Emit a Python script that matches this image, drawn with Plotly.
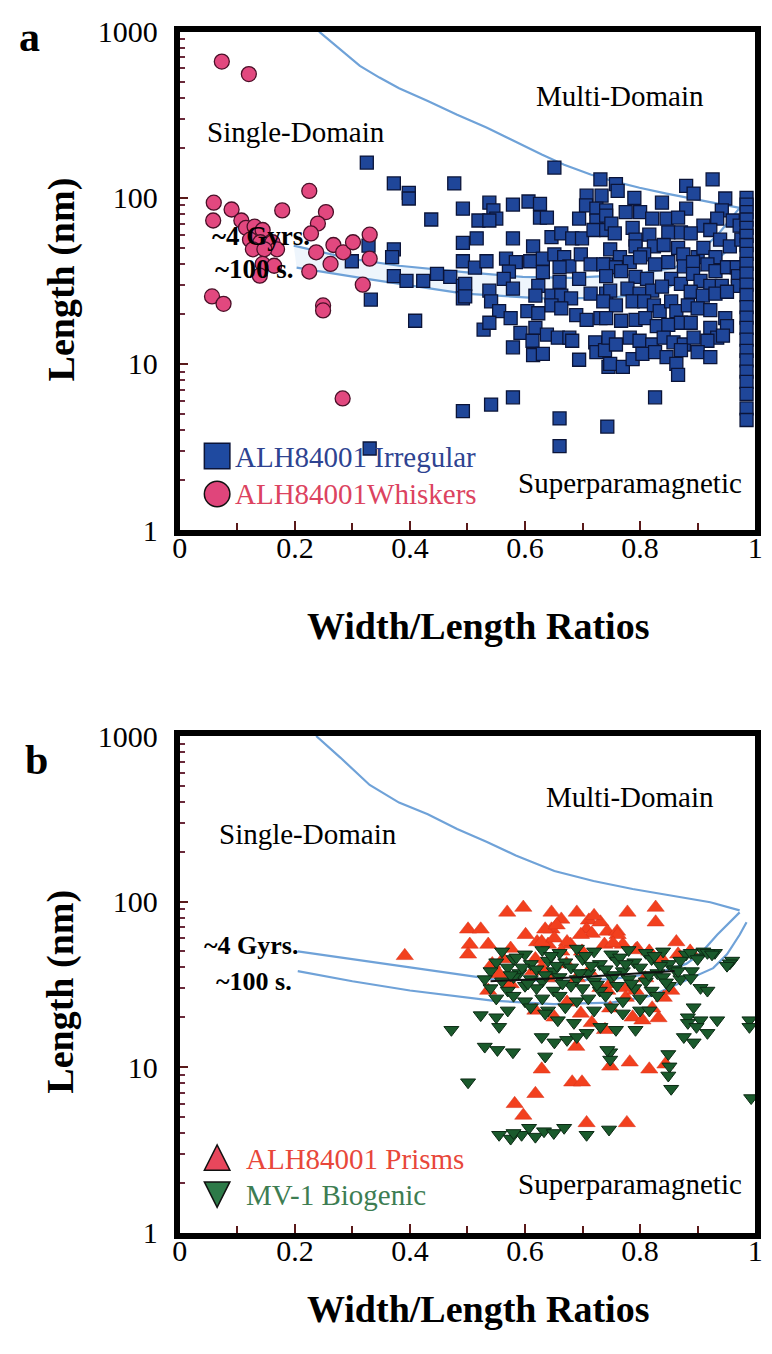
import plotly.graph_objects as go

W, H = 772, 1354
SERIF = "Liberation Serif"

# ---------------- Panel a data (Width/Length ratio, Length nm) ----------------
irregular = [
    (0.325, 163), (0.372, 122), (0.398, 107), (0.398, 99), (0.477, 122), (0.492, 86), (0.437, 74),
    (0.328, 51.5), (0.372, 49), (0.369, 44), (0.299, 41.5), (0.492, 53.6), (0.492, 41.5), (0.372, 33.8),
    (0.394, 31.6), (0.423, 31.6), (0.447, 34.8), (0.470, 33.4), (0.492, 29.5), (0.492, 24.8), (0.332, 24.4),
    (0.409, 18.2), (0.492, 5.2), (0.330, 3.1), (0.541, 5.7), (0.579, 6.3), (0.660, 4.7), (0.660, 3.2),
    (0.743, 4.2), (0.826, 6.3),
    (0.651, 152), (0.731, 129), (0.538, 93.5), (0.579, 91), (0.606, 95), (0.626, 92), (0.707, 103),
    (0.733, 103), (0.545, 84), (0.550, 75), (0.519, 73), (0.538, 73), (0.626, 76), (0.638, 76), (0.694, 75),
    (0.706, 90), (0.724, 86), (0.741, 84), (0.724, 73), (0.516, 57), (0.579, 57), (0.646, 58), (0.663, 61),
    (0.682, 57), (0.699, 57), (0.719, 64), (0.741, 64), (0.614, 51), (0.513, 38), (0.533, 41.5), (0.567, 43),
    (0.584, 41), (0.572, 36), (0.563, 32.5), (0.609, 41.5), (0.631, 43), (0.651, 45.6), (0.668, 44),
    (0.677, 38.7), (0.697, 45.6), (0.714, 39.8), (0.741, 39.8), (0.631, 35.7), (0.660, 38.2), (0.579, 28.4),
    (0.623, 29.5), (0.660, 31.2), (0.694, 32.5), (0.496, 30.3), (0.496, 25.5), (0.538, 27.6), (0.541, 23.8),
    (0.618, 25.8), (0.646, 25.8), (0.663, 25.8), (0.680, 24.8), (0.714, 26.5), (0.741, 26.5), (0.555, 20.8),
    (0.575, 18.9), (0.604, 20.8), (0.623, 20.2), (0.646, 22.5), (0.663, 21.6), (0.689, 19.7), (0.707, 18.4),
    (0.731, 18.9), (0.528, 16.1), (0.538, 17.7), (0.592, 15.4), (0.618, 16.5), (0.638, 15.0), (0.657, 14.4),
    (0.677, 14.4), (0.579, 12.6), (0.613, 13.8), (0.614, 11.3), (0.631, 11.5), (0.682, 13.8), (0.722, 13.5),
    (0.724, 11.8), (0.694, 10.6), (0.739, 12.1), (0.745, 9.6),
    (0.926, 129), (0.880, 118), (0.893, 106), (0.758, 121), (0.761, 110), (0.790, 100), (0.838, 93.5),
    (0.948, 99), (0.942, 84), (0.880, 86), (0.775, 82), (0.800, 82), (0.821, 75), (0.741, 78), (0.750, 70),
    (0.846, 75), (0.866, 76), (0.910, 68), (0.934, 75), (0.961, 73), (0.973, 68), (0.756, 61), (0.787, 66),
    (0.792, 56), (0.816, 60), (0.824, 51), (0.849, 62), (0.871, 62), (0.888, 61), (0.922, 64), (0.939, 56),
    (0.956, 51), (0.976, 56), (0.748, 49), (0.765, 44), (0.792, 51), (0.807, 45.6), (0.841, 52), (0.866, 50),
    (0.875, 45.6), (0.900, 44), (0.910, 50), (0.931, 44), (0.736, 39.8), (0.758, 38.2), (0.782, 41),
    (0.800, 43.8), (0.826, 39.8), (0.849, 41), (0.876, 38.7), (0.892, 41), (0.917, 39.8), (0.931, 36.2),
    (0.951, 38.2), (0.968, 38.2), (0.741, 33.8), (0.767, 36.2), (0.792, 33.4), (0.812, 32.5), (0.854, 32.5),
    (0.871, 30.3), (0.892, 34.8), (0.905, 31.6), (0.922, 29.5), (0.942, 29.5), (0.970, 33.8), (0.970, 29.5),
    (0.748, 27.6), (0.778, 28.4), (0.799, 26.5), (0.821, 27.6), (0.838, 29.2), (0.888, 27.2), (0.909, 25.8),
    (0.931, 26.5), (0.951, 27.2), (0.736, 23.8), (0.758, 22.5), (0.787, 23.8), (0.807, 23.8), (0.824, 22.5),
    (0.834, 20.8), (0.854, 23.8), (0.863, 20.8), (0.883, 22.5), (0.900, 21.6), (0.922, 21.1), (0.948, 18.9),
    (0.951, 16.9), (0.741, 18.9), (0.767, 18.2), (0.792, 18.4), (0.809, 18.9), (0.829, 16.9), (0.849, 17.2),
    (0.871, 17.7), (0.888, 17.7), (0.922, 16.5), (0.934, 14.4), (0.917, 13.8), (0.944, 14.8), (0.745, 14.4),
    (0.758, 13.1), (0.782, 14.4), (0.799, 13.8), (0.821, 13.1), (0.841, 14.4), (0.858, 13.5), (0.876, 13.1),
    (0.893, 14.4), (0.748, 10.0), (0.770, 9.6), (0.787, 10.7), (0.804, 11.5), (0.826, 11.8), (0.846, 11.0),
    (0.871, 12.1), (0.900, 11.8), (0.922, 11.0), (0.863, 10.0), (0.866, 8.6),
    (0.985, 100), (0.985, 91), (0.985, 82), (0.985, 74), (0.985, 66), (0.985, 59), (0.985, 52), (0.985, 46),
    (0.985, 40), (0.985, 35), (0.985, 30), (0.985, 26), (0.985, 22), (0.985, 19), (0.985, 16.5), (0.985, 14),
    (0.985, 12), (0.985, 10.5), (0.985, 9), (0.985, 7.8), (0.985, 6.6), (0.985, 5.4), (0.985, 4.6),
]

whiskers = [
    (0.073, 660), (0.120, 555), (0.059, 93.5), (0.090, 85), (0.058, 73), (0.107, 73), (0.178, 84),
    (0.225, 110), (0.254, 82), (0.240, 70), (0.228, 61), (0.115, 66), (0.130, 67), (0.144, 64), (0.122, 56),
    (0.140, 54), (0.161, 54), (0.169, 49), (0.127, 49), (0.147, 49), (0.237, 47), (0.267, 52), (0.284, 47),
    (0.301, 54), (0.330, 60), (0.262, 40), (0.330, 43), (0.225, 36), (0.144, 40), (0.164, 39), (0.139, 34),
    (0.318, 30), (0.056, 25.5), (0.076, 23), (0.249, 22.5), (0.249, 21), (0.283, 6.2),
]

sd_md_a = [
    (0.242, 1000), (0.279, 783), (0.313, 622), (0.347, 529), (0.381, 456), (0.431, 382), (0.482, 316),
    (0.533, 265), (0.584, 216), (0.629, 182), (0.668, 158), (0.714, 138), (0.753, 126), (0.799, 115),
    (0.846, 106), (0.883, 100), (0.939, 92), (0.973, 87),
]
gyrs_a = [
    (0.198, 51.5), (0.296, 43), (0.381, 39), (0.494, 35.7), (0.596, 33.4), (0.680, 33), (0.787, 34.5),
    (0.860, 38), (0.900, 46), (0.935, 60), (0.973, 87),
]
sec100_a = [
    (0.203, 38), (0.325, 32.5), (0.494, 26.5), (0.629, 24.8), (0.753, 25), (0.840, 28), (0.890, 34),
    (0.925, 40), (0.951, 48), (0.973, 62), (0.985, 75),
]

# ---------------- Panel b data ----------------
prisms = [
    (0.391, 47), (0.569, 86), (0.597, 92), (0.501, 68), (0.523, 68), (0.504, 55), (0.501, 48), (0.536, 55),
    (0.646, 86), (0.663, 78), (0.646, 68), (0.711, 77), (0.731, 75), (0.707, 68), (0.743, 66), (0.760, 66),
    (0.778, 86), (0.827, 92), (0.827, 75), (0.601, 63), (0.621, 57), (0.640, 55), (0.575, 52), (0.562, 45),
    (0.679, 55), (0.699, 50), (0.738, 55), (0.770, 55), (0.795, 52), (0.816, 50), (0.863, 57), (0.887, 50),
    (0.543, 42), (0.555, 36.5), (0.536, 29), (0.575, 31.8), (0.614, 38), (0.640, 34.5), (0.672, 42),
    (0.711, 38), (0.743, 29), (0.777, 30.1), (0.809, 34.5), (0.841, 26.3), (0.635, 68), (0.716, 64),
    (0.697, 63), (0.761, 63), (0.753, 56), (0.629, 57), (0.651, 60), (0.673, 57), (0.663, 50), (0.792, 51),
    (0.838, 45), (0.866, 48), (0.618, 45), (0.629, 40), (0.690, 34.5), (0.731, 30.1), (0.748, 31.8),
    (0.775, 26.3), (0.792, 29), (0.854, 29), (0.673, 24.6), (0.651, 20), (0.618, 22), (0.697, 21.1),
    (0.716, 18.5), (0.739, 16.8), (0.748, 22.7), (0.787, 20), (0.804, 19.2), (0.832, 19.8), (0.821, 22.7),
    (0.689, 13.3), (0.748, 10.1), (0.782, 10.7), (0.816, 9.7), (0.844, 10.4), (0.629, 9.7), (0.682, 8.1),
    (0.699, 8.1), (0.618, 6.9), (0.582, 6.0), (0.597, 5.1), (0.707, 4.6), (0.777, 4.6), (0.690, 86),
    (0.720, 82), (0.655, 72),
]

biogenic = [
    (0.56, 50), (0.60, 48), (0.63, 51), (0.66, 49), (0.69, 52), (0.72, 50), (0.75, 48), (0.78, 51), (0.81, 49),
    (0.84, 50), (0.88, 48), (0.91, 50), (0.93, 49), (0.96, 44),
    (0.55, 43), (0.58, 45), (0.61, 42), (0.64, 44), (0.67, 43), (0.70, 45), (0.73, 42), (0.76, 44), (0.79, 43),
    (0.82, 45), (0.85, 42), (0.87, 44), (0.90, 46),
    (0.54, 38), (0.57, 40), (0.59, 37), (0.62, 39), (0.65, 38), (0.68, 40), (0.71, 37), (0.74, 39), (0.77, 38),
    (0.80, 40), (0.83, 37), (0.86, 39), (0.89, 38),
    (0.53, 34), (0.56, 33), (0.58, 35), (0.61, 34), (0.63, 33), (0.66, 35), (0.69, 34), (0.72, 33), (0.75, 35),
    (0.78, 34), (0.81, 33), (0.84, 35), (0.87, 34),
    (0.54, 30), (0.57, 29), (0.60, 31), (0.62, 30), (0.65, 29), (0.68, 31), (0.70, 30), (0.73, 29), (0.76, 31),
    (0.79, 30), (0.82, 29), (0.85, 31),
    (0.55, 26), (0.58, 27), (0.60, 25), (0.63, 26), (0.66, 27), (0.69, 25), (0.71, 26), (0.74, 27), (0.77, 25),
    (0.80, 26), (0.83, 27),
    (0.57, 22), (0.61, 23), (0.64, 22), (0.67, 23), (0.72, 22), (0.75, 23), (0.80, 22),
    (0.585, 46), (0.645, 47), (0.705, 47), (0.765, 46), (0.825, 47), (0.595, 40), (0.655, 41), (0.715, 41),
    (0.775, 42), (0.835, 41), (0.575, 36), (0.635, 36), (0.695, 37), (0.755, 36), (0.815, 36), (0.605, 32),
    (0.665, 32), (0.725, 31.5), (0.785, 32), (0.845, 32.5),
    (0.888, 49), (0.900, 45), (0.917, 49), (0.956, 42.4), (0.925, 48), (0.951, 41), (0.866, 38),
    (0.888, 34.5), (0.905, 30.1), (0.917, 29), (0.893, 23), (0.883, 20), (0.905, 19.2), (0.934, 19.2),
    (0.917, 16.1), (0.883, 18.5), (0.893, 14.1), (0.876, 15.2), (0.898, 17.5),
    (0.635, 21.1), (0.657, 19.2), (0.685, 18.5), (0.707, 16.1), (0.731, 17.5), (0.758, 16.8), (0.770, 21.1),
    (0.792, 16.8), (0.816, 22), (0.629, 15.2), (0.651, 14.1), (0.673, 14.6), (0.690, 15.2), (0.635, 11.6),
    (0.748, 12.3), (0.748, 11.1), (0.849, 12), (0.851, 10.1), (0.849, 8.9), (0.854, 7.4), (0.472, 16.8),
    (0.501, 8.1), (0.530, 13.3), (0.552, 12.7), (0.579, 12.3), (0.523, 20.6), (0.550, 20), (0.555, 17.5),
    (0.743, 12.7), (0.555, 3.9), (0.575, 3.7), (0.594, 3.9), (0.607, 4.3), (0.618, 3.8), (0.633, 4.1),
    (0.650, 4.0), (0.668, 4.3), (0.707, 3.9), (0.746, 4.2), (0.580, 4.0), (0.990, 19.2), (0.990, 17.5),
    (0.993, 6.5),
]

sd_md_b = [
    (0.237, 1000), (0.279, 741), (0.330, 506), (0.381, 396), (0.431, 337), (0.482, 274), (0.533, 230),
    (0.584, 190), (0.651, 153), (0.719, 133), (0.787, 119), (0.854, 109), (0.922, 99), (0.973, 88.5),
]
gyrs_b = [
    (0.205, 50), (0.30, 45), (0.40, 40), (0.543, 34), (0.65, 33), (0.75, 34), (0.83, 37), (0.88, 42),
    (0.905, 48.5), (0.934, 63), (0.973, 86),
]
sec100_b = [
    (0.205, 38), (0.30, 33), (0.40, 29), (0.543, 25.2), (0.65, 24), (0.75, 24.5), (0.82, 27), (0.888, 34.5),
    (0.927, 39.6), (0.951, 48), (0.973, 63), (0.985, 75),
]
trend_b = [(0.54, 33), (0.70, 35), (0.86, 38)]

X_TICKS = [0, 0.2, 0.4, 0.6, 0.8, 1]
X_TICK_TEXT = ["0", "0.2", "0.4", "0.6", "0.8", "1"]
Y_TICKS = [1, 10, 100, 1000]
Y_TICK_TEXT = ["1", "10", "100", "1000"]


def unzip(pairs):
    return [p[0] for p in pairs], [p[1] for p in pairs]


def px(x):
    return x / W


def py(y):
    return 1 - y / H


CURVE = "#6fa2d8"
fig = go.Figure()


def line(pairs, xa, ya, color=CURVE, width=2.2, fill=None, fillcolor=None):
    x, y = unzip(pairs)
    fig.add_trace(go.Scatter(x=x, y=y, mode="lines", xaxis=xa, yaxis=ya, showlegend=False,
                             line=dict(color=color, width=width), fill=fill, fillcolor=fillcolor,
                             hoverinfo="skip"))


# panel a curves
line(sd_md_a, "x", "y")
line(gyrs_a, "x", "y")
line(sec100_a, "x", "y", fill="tonexty", fillcolor="rgba(200,222,244,0.3)")

bx, by = unzip(irregular)
fig.add_trace(go.Scatter(x=bx, y=by, mode="markers", xaxis="x", yaxis="y", showlegend=False,
                         marker=dict(symbol="square", size=13, color="#1f4699",
                                     line=dict(color="#0b1438", width=1.3))))
wx, wy = unzip(whiskers)
fig.add_trace(go.Scatter(x=wx, y=wy, mode="markers", xaxis="x", yaxis="y", showlegend=False,
                         marker=dict(symbol="circle", size=15, color="#e2487f",
                                     line=dict(color="#4a1028", width=1.3))))

# panel b curves
line(sd_md_b, "x2", "y2")
line(gyrs_b, "x2", "y2")
line(sec100_b, "x2", "y2")

rx, ry = unzip(prisms)
fig.add_trace(go.Scatter(x=rx, y=ry, mode="markers", xaxis="x2", yaxis="y2", showlegend=False,
                         marker=dict(symbol="triangle-up", size=15, color="#f2401e",
                                     line=dict(color="#d8301a", width=0.5))))
gx, gy = unzip(biogenic)
fig.add_trace(go.Scatter(x=gx, y=gy, mode="markers", xaxis="x2", yaxis="y2", showlegend=False,
                         marker=dict(symbol="triangle-down", size=13, color="#1a5a2c",
                                     line=dict(color="#0c2a14", width=1))))
line(trend_b, "x2", "y2", color="#111111", width=2)

# axes
tick_font = dict(family=SERIF, size=30, color="black")
xcommon = dict(range=[0, 1], tickvals=X_TICKS, ticktext=X_TICK_TEXT, ticks="inside", ticklen=9,
               tickwidth=2, tickcolor="#5a1a1a",
               minor=dict(tickvals=[0.1, 0.3, 0.5, 0.7, 0.9], ticks="inside", ticklen=7, tickwidth=2,
                          tickcolor="#5a1a1a"),
               showline=True, linewidth=6, linecolor="black", mirror=True, showgrid=False,
               zeroline=False, tickfont=tick_font, ticklabelstandoff=-14, fixedrange=True)
minor_y = [m * 10 ** d for d in range(3) for m in range(2, 10)]
ycommon = dict(type="log", range=[0, 3], tickvals=Y_TICKS, ticktext=Y_TICK_TEXT, ticks="inside",
               ticklen=8, tickwidth=2, tickcolor="#5a1a1a",
               minor=dict(tickvals=minor_y, ticks="inside", ticklen=5, tickwidth=2, tickcolor="#6a2a3a"),
               showline=True, linewidth=6, linecolor="black", mirror=True, showgrid=False,
               zeroline=False, tickfont=tick_font, ticklabelstandoff=10, fixedrange=True)

xdom = [px(176), px(762)]
fig.update_layout(
    xaxis=dict(domain=xdom, anchor="y", **xcommon),
    yaxis=dict(domain=[py(527), py(16)], anchor="x", **ycommon),
    xaxis2=dict(domain=xdom, anchor="y2", **xcommon),
    yaxis2=dict(domain=[py(1247), py(738)], anchor="x2", **ycommon),
)

ann = []


def text(s, x, y, size, color="black", bold=False, xanchor="center", angle=0):
    ann.append(dict(text=f"<b>{s}</b>" if bold else s, x=px(x), y=py(y), xref="paper", yref="paper",
                    showarrow=False, xanchor=xanchor, yanchor="middle", textangle=angle,
                    font=dict(family=SERIF, size=size, color=color)))


# panel letters & titles
text("a", 23, 22, 42, bold=True)
text("b", 30, 763, 42, bold=True)
for cy in (270, 1000):
    text("Length (nm)", 55, cy, 38, bold=True, angle=-90)
text("Width/Length Ratios", 480, 625, 38, bold=True)
text("Width/Length Ratios", 480, 1325, 38, bold=True)

# region labels panel a
text("Single-Domain", 294, 119, 29)
text("Multi-Domain", 624, 82, 29)
text("Superparamagnetic", 635, 479, 29)
text("~4 Gyrs.", 259, 226, 27, bold=True)
text("~100 s.", 252, 259, 27, bold=True)
# region labels panel b
text("Single-Domain", 307, 838, 29)
text("Multi-Domain", 635, 800, 29)
text("Superparamagnetic", 634, 1197, 29)
text("~4 Gyrs.", 249, 953, 26, bold=True)
text("~100 s.", 252, 990, 26, bold=True)

# legends (text)
text("ALH84001 Irregular", 230, 452, 29, color="#2e4391", xanchor="left")
text("ALH84001Whiskers", 230, 490, 29, color="#dc4360", xanchor="left")
text("ALH84001 Prisms", 241, 1172, 29, color="#e8473a", xanchor="left")
text("MV-1 Biogenic", 241, 1208, 29, color="#3d7d52", xanchor="left")

shapes = [
    dict(type="rect", xref="paper", yref="paper", x0=px(201), x1=px(227), y0=py(464), y1=py(438),
         fillcolor="#1f4aa0", line=dict(color="#0b1438", width=1.5)),
    dict(type="circle", xref="paper", yref="paper", x0=px(201), x1=px(227), y0=py(503), y1=py(477),
         fillcolor="#e0457b", line=dict(color="#111111", width=1.5)),
    dict(type="path", xref="paper", yref="paper",
         path=f"M {px(201)} {py(1183)} L {px(227)} {py(1183)} L {px(214)} {py(1157)} Z",
         fillcolor="#e8475c", line=dict(color="#111111", width=1.5)),
    dict(type="path", xref="paper", yref="paper",
         path=f"M {px(201)} {py(1195)} L {px(227)} {py(1195)} L {px(214)} {py(1221)} Z",
         fillcolor="#2d7a48", line=dict(color="#111111", width=1.5)),
]

fig.update_layout(width=W, height=H, margin=dict(l=0, r=0, t=0, b=0), paper_bgcolor="white",
                  plot_bgcolor="white", annotations=ann, shapes=shapes, showlegend=False,
                  font=dict(family=SERIF))

fig.write_html("out.html")
